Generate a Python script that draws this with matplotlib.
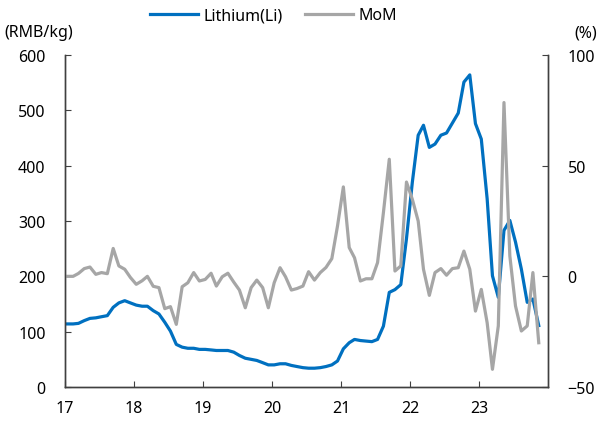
#Import Libraries
import numpy as np
import pandas as pd
import matplotlib
matplotlib.use("Agg")
import matplotlib.pyplot as plt
import matplotlib.dates as mdates

plt.rcParams['font.family'] = ['Noto Sans', 'DejaVu Sans']
plt.rcParams['font.size'] = 11.5

#Data: monthly, Jan 2017 - Nov 2023
months = pd.date_range('2017-01-01', '2023-11-01', freq='MS') + pd.Timedelta(days=12)

lithium = [114, 114, 115, 120, 124, 125, 127, 129, 144, 152, 156, 152,
           148, 146, 146, 138, 132, 117, 101, 77, 72, 70, 70, 68,
           68, 67, 66, 66, 66, 63, 57, 52, 50, 48, 44, 40,
           40, 42, 42, 39, 37, 35, 34, 34, 35, 37, 40, 47,
           69, 80, 86, 84, 83, 82, 86, 110, 171, 176, 185, 268,
           370, 455, 473, 433, 439, 455, 459, 477, 495, 551, 564, 476,
           448, 340, 201, 162, 283, 301, 262, 213, 153, 159, 111]

mom = [0, 0, 1.3, 3.5, 4.2, 0.9, 1.7, 1.2, 12.6, 4.7, 3.2, -0.5,
       -3.6, -2, 0, -4.5, -5.1, -14.6, -13.7, -21.7, -4.7, -2.9, 1.7, -2.1,
       -1.4, 1.4, -4.4, -0.2, 1.4, -2.6, -6.2, -14.2, -5.1, -1.7, -5.1, -14.2,
       -2.9, 3.9, -0.2, -6.2, -5.5, -4.4, 2.1, -1.7, 1.7, 4.0, 8.0, 22.7,
       40.4, 13.0, 8.4, -2.1, -1.1, -1.1, 6.2, 28.8, 52.9, 2.4, 4.7, 42.6,
       34.8, 25.0, 3.2, -8.6, 1.7, 3.5, 0.5, 3.5, 3.9, 11.4, 3.2, -15.7,
       -5.9, -21.0, -42.0, -22.4, 78.5, 9.2, -13.4, -24.7, -22.4, 1.7, -30.0]

blue = '#0070C0'
gray = '#A6A6A6'
spine_c = '#404040'

fig = plt.figure(figsize=(5.98, 4.27), dpi=100)
ax = fig.add_axes([0.1087, 0.0913, 0.8077, 0.7776])
ax2 = ax.twinx()

l1, = ax.plot(months, lithium, color=blue, lw=2.3, label='Lithium(Li)', solid_joinstyle='round')
l2, = ax2.plot(months, mom, color=gray, lw=2.3, label='MoM', solid_joinstyle='round')

ax.set_ylim(0, 600)
ax.set_yticks(np.arange(0, 601, 100))
ax2.set_ylim(-50, 100)
ax2.set_yticks([-50, 0, 50, 100])
ax.set_xlim(pd.Timestamp('2017-01-01'), pd.Timestamp('2024-01-01'))
ax.xaxis.set_major_locator(mdates.YearLocator())
ax.xaxis.set_major_formatter(mdates.DateFormatter('%y'))
xt = ax.get_xticks()

for a in (ax, ax2):
    a.spines['top'].set_visible(False)
    for s in ('left', 'right', 'bottom'):
        a.spines[s].set_color(spine_c)
        a.spines[s].set_linewidth(1)
ax.tick_params(axis='y', direction='in', length=4, color=spine_c, pad=14)
ax2.tick_params(axis='y', direction='in', length=4, color=spine_c, pad=14)
ax.tick_params(axis='x', direction='in', length=4, color=spine_c, pad=9)

# drop the 24 label at the right edge
ax.set_xticks(xt[:-1])

fig.text(0.008, 0.922, '(RMB/kg)', ha='left', va='center')
fig.text(0.998, 0.922, '(%)', ha='right', va='center')

fig.legend(handles=[l1, l2], loc='center', bbox_to_anchor=(0.458, 0.962), ncol=2,
           frameon=False, handlelength=3, handletextpad=0.35, columnspacing=1.4)

fig.savefig('out.png', dpi=100)
